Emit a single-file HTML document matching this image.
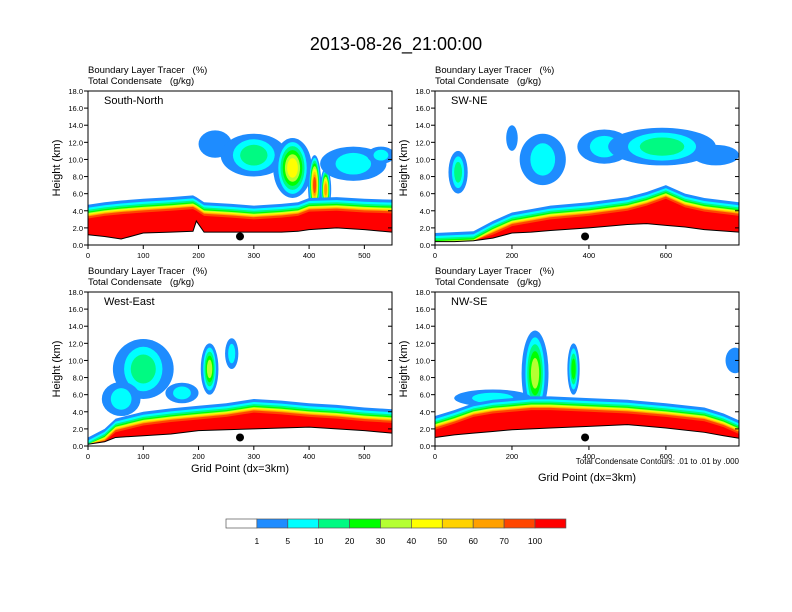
<!DOCTYPE html>
<html><head><meta charset="utf-8">
<style>
body{margin:0;background:#fff;}
svg{display:block;font-family:"Liberation Sans",sans-serif;}
</style></head>
<body>
<svg id="c" width="792" height="612" viewBox="0 0 792 612">
<text x="396" y="50" text-anchor="middle" font-size="18">2013-08-26_21:00:00</text>
</svg>
<script>
const colors=['#ffffff','#1e8cff','#00ffff','#00fa82','#00ff00','#b4ff32','#ffff00','#ffd200','#ffa000','#ff4600','#ff0000'];
const cbLabels=['1','5','10','20','30','40','50','60','70','100'];
const panelNames=['South-North','SW-NE','West-East','NW-SE'];
const xMaxes=[550,790,550,790];
const xTickVals=[[0,100,200,300,400,500],[0,200,400,600],[0,100,200,300,400,500],[0,200,400,600]];
const yTickVals=[0,2,4,6,8,10,12,14,16,18];
const profX=[[0,30,60,100,150,190,196,210,260,300,350,380,400,450,500,550],
 [0,50,100,150,200,250,300,400,500,550,600,650,700,790],
 [0,30,50,100,150,200,250,300,350,400,450,500,550],
 [0,50,100,150,200,250,300,400,500,600,700,750,790]];
const terrain=[[1.2,1.0,0.7,1.4,1.5,1.6,2.8,1.5,1.5,1.5,1.5,1.6,1.8,2.0,1.8,1.5],
 [0.4,0.4,0.5,0.8,1.4,1.5,1.7,2.0,2.4,2.5,2.3,2.1,1.8,1.5],
 [0.2,0.5,1.0,1.2,1.4,1.8,1.9,2.0,2.1,2.2,2.0,1.8,1.5],
 [1.0,1.3,1.5,1.7,1.9,2.0,2.1,2.3,2.5,2.1,1.6,1.2,0.9]];
const blTop=[[4.7,5.0,5.2,5.4,5.6,5.8,5.6,5.0,4.8,4.6,4.8,5.0,5.5,5.6,5.4,5.3],
 [1.4,1.5,1.6,2.8,3.8,4.2,4.6,5.0,5.6,6.2,7.0,6.0,5.5,5.0],
 [1.0,2.0,3.2,4.0,4.4,4.7,5.0,5.5,5.3,5.0,4.8,4.5,4.3],
 [3.5,4.2,5.0,5.4,5.6,5.8,5.8,5.6,5.4,5.0,4.5,3.8,3.0]];
// cloud blobs: [gridX, heightKm, halfWidthGrid, halfHeightKm, peakLevel]
const clouds=[
 [[230,11.8,30,1.6,1],[300,10.5,60,2.5,3],[370,9.0,35,3.5,6],[410,7.0,12,3.5,9],[430,6.5,10,2.5,8],[480,9.5,60,2.0,2],[530,10.5,25,1.0,2]],
 [[60,8.5,25,2.5,3],[200,12.5,15,1.5,1],[280,10.0,60,3.0,2],[440,11.5,70,2.0,2],[590,11.5,140,2.2,3],[730,10.5,60,1.2,1]],
 [[100,9.0,55,3.5,3],[60,5.5,35,2.0,2],[220,9.0,16,3.0,5],[260,10.8,12,1.8,2],[170,6.2,30,1.2,2]],
 [[260,8.5,35,5.0,5],[360,9.0,16,3.0,4],[150,5.6,100,1.0,2],[780,10.0,25,1.5,1]]];
const dotX=[275,390,275,390];

const svg=document.getElementById('c');
const NS='http://www.w3.org/2000/svg';
function mk(tag,attrs,parent){const e=document.createElementNS(NS,tag);for(const k in attrs)e.setAttribute(k,attrs[k]);(parent||svg).appendChild(e);return e;}
const boxes=[[88,91],[435,91],[88,292],[435,292]];
const W=304,H=154;
const sp='\u00a0\u00a0\u00a0';
panelNames.forEach((nm,p)=>{
 const [x0,y0]=boxes[p];
 const xs=v=>x0+v/xMaxes[p]*W;
 const ys=v=>y0+H-v/18*H;
 const g=mk('g',{});
 
 
 const cp=mk('clipPath',{id:'cp'+p},g);mk('rect',{x:x0,y:y0,width:W,height:H},cp);
 const pg=mk('g',{'clip-path':'url(#cp'+p+')'},g);
 clouds[p].forEach(c=>{
  for(let l=1;l<=c[4];l++){
   const f=1-(l-1)/(c[4]+0.3)*0.85;
   const el=mk('ellipse',{cx:xs(c[0]),cy:ys(c[1]),rx:c[2]/xMaxes[p]*W*(l==1?1:f*0.85),ry:c[3]/18*H*f,fill:colors[l]},pg);
   
   
  }
 });
 const offs=[0,0.35,0.6,0.8,0.95,1.05,1.15,1.25,1.35,1.6];
 for(let l=1;l<=10;l++){
  let pts=[];
  profX[p].forEach((gx,i)=>{const t=Math.max(terrain[p][i],blTop[p][i]-offs[l-1]);pts.push(xs(gx)+','+ys(t));});
  for(let i=profX[p].length-1;i>=0;i--)pts.push(xs(profX[p][i])+','+ys(terrain[p][i]));
  const poly=mk('polygon',{points:pts.join(' '),fill:colors[l]},pg);
  
  
 }
 const tl=mk('polyline',{points:profX[p].map((gx,i)=>xs(gx)+','+ys(terrain[p][i])).join(' '),fill:'none',stroke:'#000','stroke-width':1},pg);
 
 
 const dot=mk('circle',{cx:xs(dotX[p]),cy:ys(1.0),r:4,fill:'#000'},g);
 
 
 const fr=mk('rect',{x:x0,y:y0,width:W,height:H,fill:'none',stroke:'#000','stroke-width':1},g);
 
 
 yTickVals.forEach(v=>{
  mk('line',{x1:x0,x2:x0-4,y1:ys(v),y2:ys(v),stroke:'#000'},g);
  mk('line',{x1:x0+W,x2:x0+W-4,y1:ys(v),y2:ys(v),stroke:'#000'},g);
  const t=mk('text',{x:x0-5,y:ys(v)+3,'font-size':7.5,'text-anchor':'end'},g);t.textContent=v.toFixed(1);
  
  
 });
 xTickVals[p].forEach(v=>{
  mk('line',{x1:xs(v),x2:xs(v),y1:y0+H,y2:y0+H+4,stroke:'#000'},g);
  const t=mk('text',{x:xs(v),y:y0+H+13,'font-size':7.5,'text-anchor':'middle'},g);t.textContent=v;
  
  
 });
 const lab=mk('text',{x:x0+16,y:y0+13,'font-size':11},g);lab.textContent=nm;
 
 
 const h1=mk('text',{x:x0,y:y0-18,'font-size':9.5},g);h1.textContent='Boundary Layer Tracer'+sp+'(%)';
 
 
 const h2=mk('text',{x:x0,y:y0-7,'font-size':9.5},g);h2.textContent='Total Condensate'+sp+'(g/kg)';
 
 
 const yl=mk('text',{x:0,y:0,'font-size':11,'text-anchor':'middle',transform:'translate('+(x0-28)+','+(y0+H/2)+') rotate(-90)'},g);yl.textContent='Height (km)';
 
 
 if(p>=2){
  const xl=mk('text',{x:x0+W/2,y:y0+H+(p==2?26:35),'font-size':11,'text-anchor':'middle'},g);xl.textContent='Grid Point (dx=3km)';
  
  
 }
});
const note=mk('text',{x:739,y:464,'font-size':8,'text-anchor':'end'});note.textContent='Total Condensate Contours: .01 to .01 by .000';


const cb=mk('g',{});


colors.forEach((c,i)=>{
 const r=mk('rect',{x:226+i*30.9,y:519,width:30.9,height:9,fill:c,stroke:'#555','stroke-width':0.7},cb);
 
 
});
cbLabels.forEach((l,i)=>{
 const t=mk('text',{x:226+(i+1)*30.9,y:544,'font-size':8.5,'text-anchor':'middle'},cb);t.textContent=l;
 
 
});
</script>
</body></html>
